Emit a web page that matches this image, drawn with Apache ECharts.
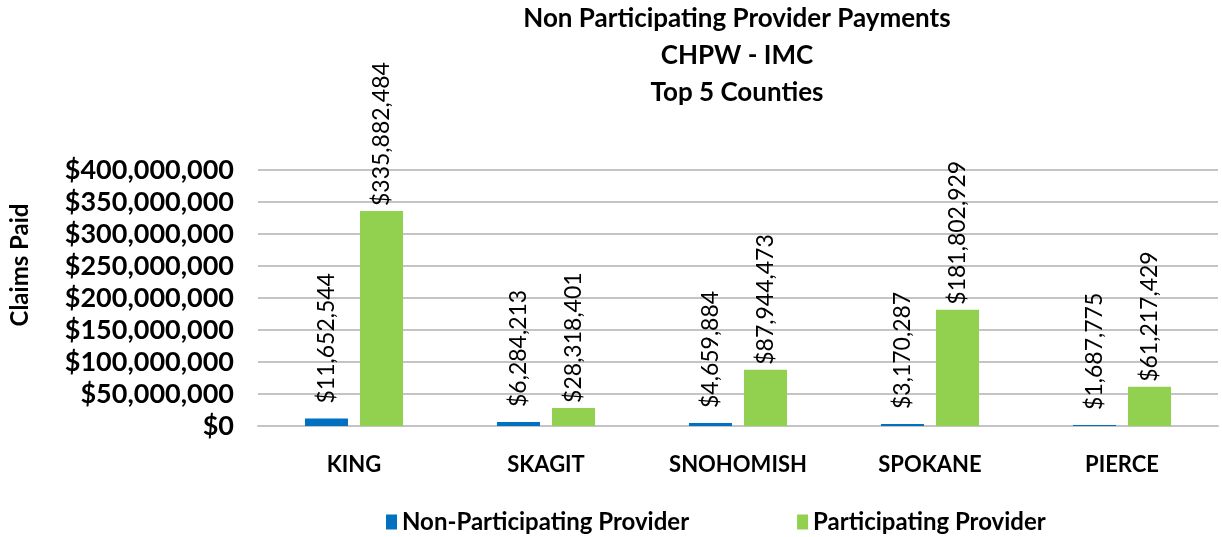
<!DOCTYPE html>
<html>
<head>
<meta charset="utf-8">
<script src="https://cdn.jsdelivr.net/npm/echarts@6/dist/echarts.min.js"></script>
<style>
  html, body { margin: 0; padding: 0; background: #fff; }
  #chart { width: 1222px; height: 537px; }
</style>
</head>
<body>
<div id="chart"></div>
<script>
const counties = ['KING', 'SKAGIT', 'SNOHOMISH', 'SPOKANE', 'PIERCE']
const nonParticipating = [11652544, 6284213, 4659884, 3170287, 1687775]
const participating = [335882484, 28318401, 87944473, 181802929, 61217429]
const titleLines = ['Non Participating Provider Payments', 'CHPW - IMC', 'Top 5 Counties']

const FONT = 'Lato'
const money = (v) => '$' + Math.round(v).toLocaleString('en-US')

const chart = echarts.init(document.getElementById('chart'))

// rotated value labels sitting on top of each bar
const barLabel = (distance) => ({
    show: true,
    position: 'top',
    rotate: 90,
    align: 'left',
    verticalAlign: 'middle',
    distance: distance,
    color: '#000',
    fontFamily: FONT,
    fontSize: 23,
    formatter: (p) => money(p.value),
})

chart.setOption({
    animation: false,
    title: {
        text: titleLines.join('\n'),
        left: 732,
        textAlign: 'center',
        top: -5,
        textStyle: {
            fontFamily: FONT,
            fontWeight: 'bold',
            fontSize: 26,
            lineHeight: 37,
            color: '#000',
        },
    },
    legend: {
        data: ['Non-Participating Provider', 'Participating Provider'],
        top: 505,
        left: 381,
        itemWidth: 11,
        itemHeight: 15,
        itemGap: 108,
        icon: 'rect',
        textStyle: {
            fontFamily: FONT,
            fontWeight: 'bold',
            fontSize: 24,
            color: '#000',
        },
    },
    grid: {
        left: 257,
        right: 4,
        top: 170,
        bottom: 111,
    },
    xAxis: {
        type: 'category',
        data: counties,
        axisTick: { show: false },
        axisLine: { lineStyle: { color: '#c4c4c4', width: 2 } },
        axisLabel: {
            margin: 28,
            color: '#000',
            fontFamily: FONT,
            fontWeight: 'bold',
            fontSize: 22,
        },
    },
    yAxis: {
        type: 'value',
        min: 0,
        max: 400000000,
        interval: 50000000,
        name: 'Claims Paid',
        nameLocation: 'middle',
        nameGap: 226,
        // pushes the name up, as in the reference
        nameTextStyle: {
            fontFamily: FONT,
            fontWeight: 'bold',
            fontSize: 24,
            color: '#000',
            padding: [0, 0, 0, 66],
        },
        axisLabel: {
            margin: 24,
            color: '#000',
            fontFamily: FONT,
            fontWeight: 'bold',
            fontSize: 27,
            formatter: money,
        },
        splitLine: { lineStyle: { color: '#c4c4c4', width: 2 } },
    },
    series: [
        {
            name: 'Non-Participating Provider',
            type: 'bar',
            data: nonParticipating,
            barWidth: 43,
            barGap: '28%',
            itemStyle: { color: '#0070C0' },
            label: barLabel(15),
        },
        {
            name: 'Participating Provider',
            type: 'bar',
            data: participating,
            barWidth: 43,
            itemStyle: { color: '#92D050' },
            label: barLabel(5),
        },
    ],
})
</script>
</body>
</html>
